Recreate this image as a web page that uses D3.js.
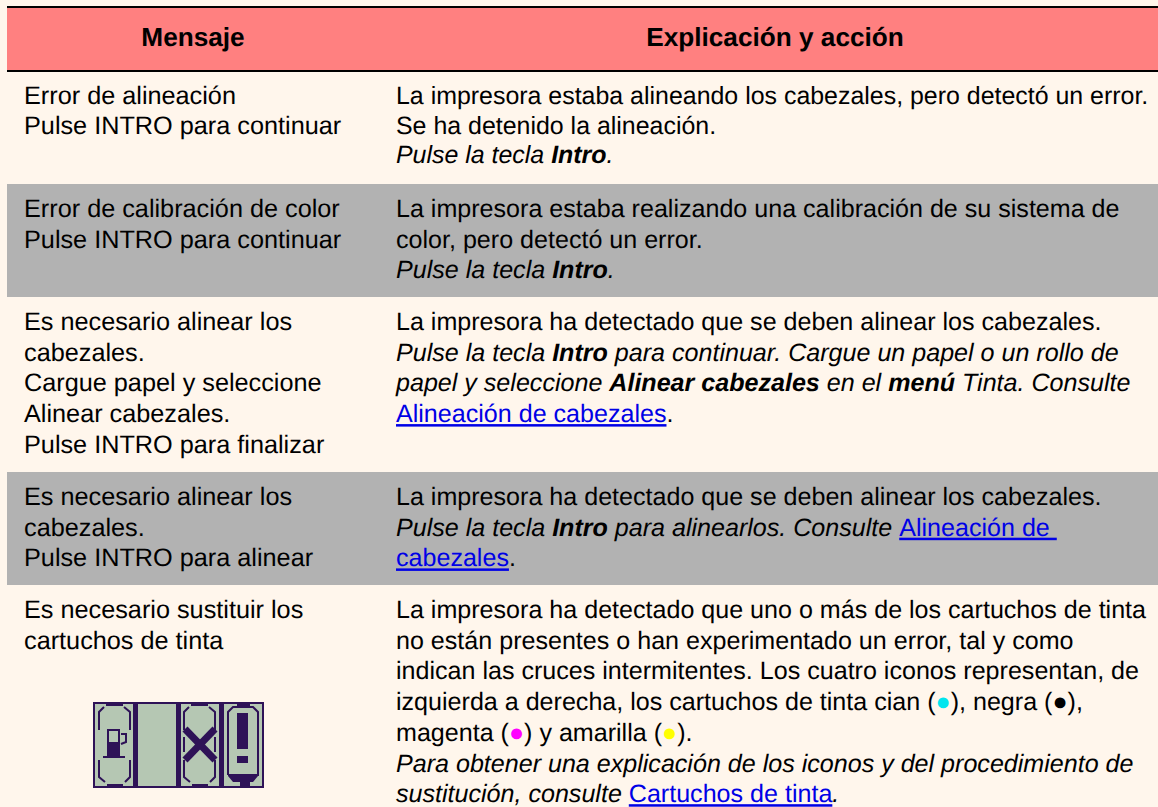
<!DOCTYPE html>
<html>
<head>
<meta charset="utf-8">
<script src="https://cdn.jsdelivr.net/npm/d3@7"></script>
<style>
html, body { margin: 0; padding: 0; background: #fff6ec; }
svg { display: block; font-family: "Liberation Sans", Arial, sans-serif; text-rendering: geometricPrecision; }
</style>
</head>
<body>
<svg id="table" width="1158" height="807"></svg>
<script>
const svg = d3.select("#table");

const width = 1158;
const height = 807;
const tableLeft = 7;
const col1Text = 24;
const col2Text = 396;
const col1Font = 25.25;
const col2Font = [24.93, 25.08, 25.08, 25.08, 25.08];

const headers = ["Mensaje", "Explicación y acción"];

// row edges in px
const rowEdges = [71, 184, 297, 472, 585, 807];
const rowFill = ["none", "#b2b2b2", "none", "#b2b2b2", "none"];
const rowLineHeight = [29.5, 30.7, 30.7, 30.7, 30.7];

const messages = [
  ["Error de alineación", "Pulse INTRO para continuar"],
  ["Error de calibración de color", "Pulse INTRO para continuar"],
  ["Es necesario alinear los", "cabezales.", "Cargue papel y seleccione", "Alinear cabezales.", "Pulse INTRO para finalizar"],
  ["Es necesario alinear los", "cabezales.", "Pulse INTRO para alinear"],
  ["Es necesario sustituir los", "cartuchos de tinta"]
];

// each line is a list of runs: [text, style]; i italic, b bold italic, l link
const explanations = [
  [
    [["La impresora estaba alineando los cabezales, pero detectó un error."]],
    [["Se ha detenido la alineación."]],
    [["Pulse la tecla ", "i"], ["Intro", "b"], [".", "i"]]
  ],
  [
    [["La impresora estaba realizando una calibración de su sistema de"]],
    [["color, pero detectó un error."]],
    [["Pulse la tecla ", "i"], ["Intro", "b"], [".", "i"]]
  ],
  [
    [["La impresora ha detectado que se deben alinear los cabezales."]],
    [["Pulse la tecla ", "i"], ["Intro", "b"], [" para continuar. Cargue un papel o un rollo de", "i"]],
    [["papel y seleccione ", "i"], ["Alinear cabezales", "b"], [" en el ", "i"], ["menú", "b"], [" Tinta. Consulte", "i"]],
    [["Alineación de cabezales", "l"], ["."]]
  ],
  [
    [["La impresora ha detectado que se deben alinear los cabezales."]],
    [["Pulse la tecla ", "i"], ["Intro", "b"], [" para alinearlos. Consulte ", "i"], ["Alineación de ", "l"]],
    [["cabezales", "l"], ["."]]
  ],
  [
    [["La impresora ha detectado que uno o más de los cartuchos de tinta"]],
    [["no están presentes o han experimentado un error, tal y como"]],
    [["indican las cruces intermitentes. Los cuatro iconos representan, de"]],
    [["izquierda a derecha, los cartuchos de tinta cian ("], ["●", "cyan"], ["), negra ("], ["●", "black"], ["),"]],
    [["magenta ("], ["●", "magenta"], [") y amarilla ("], ["●", "yellow"], [")."]],
    [["Para obtener una explicación de los iconos y del procedimiento de", "i"]],
    [["sustitución, consulte ", "i"], ["Cartuchos de tinta", "l"], [".", "i"]]
  ]
];

const runStyles = {
  i: { "font-style": "italic" },
  b: { "font-style": "italic", "font-weight": "bold" },
  l: { fill: "#0000e6", "text-decoration": "underline" },
  cyan: { fill: "#00e5ee" },
  black: { fill: "#000" },
  magenta: { fill: "#ff00ff" },
  yellow: { fill: "#ffff00" }
};

// background bands
svg.append("rect").attr("x", tableLeft).attr("y", 7).attr("width", width - tableLeft).attr("height", rowEdges[0] - 7).attr("fill", "#ff8080");

svg.selectAll("rect.band")
  .data(rowFill)
  .enter()
  .append("rect")
  .attr("class", "band")
  .attr("x", tableLeft)
  .attr("y", (d, i) => rowEdges[i])
  .attr("width", width - tableLeft)
  .attr("height", (d, i) => rowEdges[i + 1] - rowEdges[i])
  .attr("fill", d => d);

[7, 71].forEach(y => {
  svg.append("line")
    .attr("x1", tableLeft).attr("x2", width)
    .attr("y1", y).attr("y2", y)
    .attr("stroke", "#000").attr("stroke-width", 2);
});

svg.selectAll("text.head")
  .data(headers)
  .enter()
  .append("text")
  .attr("class", "head")
  .attr("x", (d, i) => i === 0 ? 193 : 775)
  .attr("y", 46)
  .attr("text-anchor", "middle")
  .attr("font-size", 26.2)
  .attr("font-weight", "bold")
  .attr("fill", "#000")
  .text(d => d);

// first baseline of a row sits a fixed distance under its top edge
const firstBaseline = i => rowEdges[i] + 33;

messages.forEach((lines, i) => {
  svg.append("g")
    .selectAll("text")
    .data(lines)
    .enter()
    .append("text")
    .attr("x", col1Text)
    .attr("y", (d, j) => firstBaseline(i) + j * rowLineHeight[i])
    .attr("font-size", col1Font)
    .attr("fill", "#000")
    .text(d => d);
});

explanations.forEach((lines, i) => {
  lines.forEach((runs, j) => {
    const t = svg.append("text")
      .attr("x", col2Text)
      .attr("y", firstBaseline(i) + j * rowLineHeight[i])
      .attr("font-size", col2Font[i])
      .attr("fill", "#000")
      .style("white-space", "pre");
    runs.forEach(r => {
      const span = t.append("tspan").text(r[0]);
      const st = runStyles[r[1]] || {};
      Object.keys(st).forEach(k => span.style(k, st[k]));
    });
  });
});

// LCD icon with four cartridge cells
const iconX = d3.scaleLinear().domain([0, 171]).range([93, 264]);
const iconY = d3.scaleLinear().domain([0, 86]).range([702, 788]);
const dark = "#2e1257";
const lcd = "#b5c7b3";
const icon = svg.append("g");

const rectI = (x, y, w, h, fill) => icon.append("rect")
  .attr("x", iconX(x)).attr("y", iconY(y))
  .attr("width", iconX(w) - iconX(0)).attr("height", iconY(h) - iconY(0))
  .attr("fill", fill);
const lineGen = d3.line().x(p => iconX(p[0])).y(p => iconY(p[1]));
const pathI = (pts, w) => icon.append("path")
  .attr("d", lineGen(pts))
  .attr("fill", "none").attr("stroke", dark).attr("stroke-width", w);
const fillI = pts => icon.append("path").attr("d", lineGen(pts) + "Z").attr("fill", dark);

rectI(0, 0, 171, 86, dark);

[2, 45, 88, 131].forEach(x => rectI(x, 2, 38, 82, lcd));

// broken cartridge outline, used by the first and third cells
const outline = (x, mid) => {
  pathI([[x + 6, 28], [x + 6, 10], [x + 11, 5]], 2);
  pathI([[x + 37, 28], [x + 37, 10], [x + 31, 5]], 2);
  pathI([[x + 6, 58], [x + 6, 75], [x + 12, 80]], 2);
  pathI([[x + 37, 58], [x + 37, 75], [x + 32, 80]], 2);
  rectI(x + 13, 2, 17, 2, dark);
  rectI(x + 14, 82, 16, 2, dark);
  if (mid) {
    pathI([[x + 6, 35], [x + 6, 50]], 2);
    pathI([[x + 37, 35], [x + 37, 50]], 2);
  }
};
outline(0, false);
outline(85, true);

// fuel pump on first cell
pathI([[15, 40], [15, 28], [26, 28], [26, 40]], 2);
rectI(14, 40, 13, 15, dark);
rectI(10, 54, 22, 2, dark);
pathI([[28, 32], [33, 32], [33, 40], [28, 42]], 2);

// cross on third cell
pathI([[92, 27], [122, 58]], 7);
pathI([[122, 27], [92, 58]], 7);

// warning mark on fourth cell
pathI([[135, 73], [135, 10], [140, 5], [160, 5], [165, 10], [165, 73], [135, 73]], 2);
rectI(144, 2, 13, 2, dark);
rectI(144, 11, 11, 36, dark);
rectI(144, 54, 11, 7, dark);
fillI([[135, 74], [165, 74], [160, 80], [157, 80], [157, 84], [147, 84], [147, 80], [140, 80]]);
</script>
</body>
</html>
